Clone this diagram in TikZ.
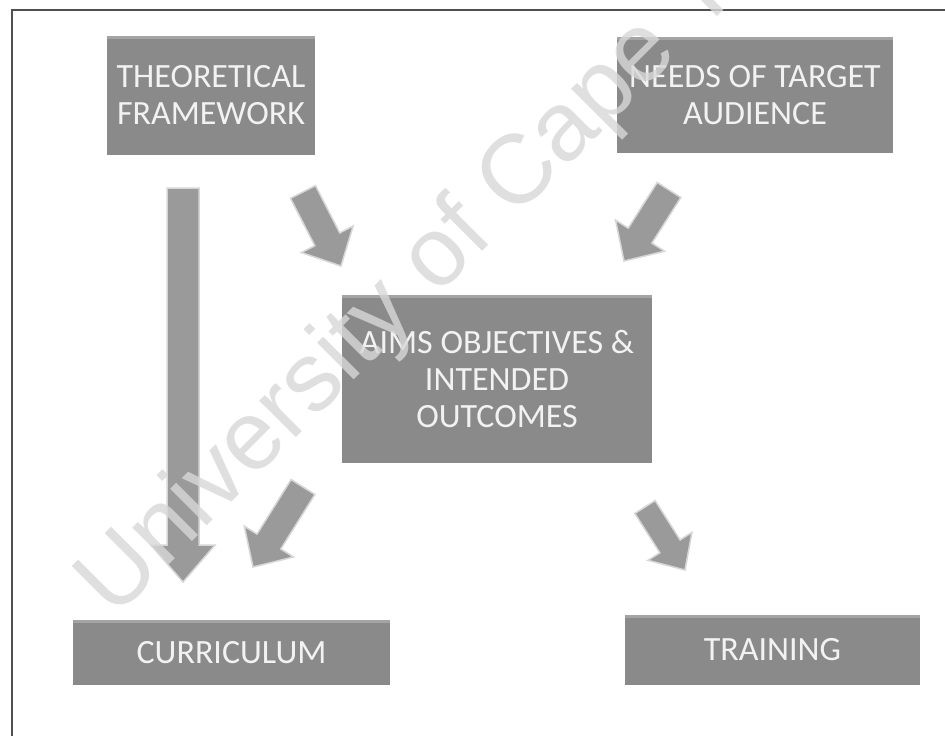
\documentclass[tikz,border=0pt]{standalone}
\usepackage{fontspec}
\setmainfont{Carlito}
\newfontfamily\wmfont{Liberation Sans}
\usetikzlibrary{calc}
\definecolor{boxgray}{HTML}{8A8A8A}
\definecolor{boxtop}{HTML}{A4A4A4}
\definecolor{arrowgray}{HTML}{9A9A9A}
\definecolor{edgegray}{HTML}{D6D6D6}
\definecolor{framegray}{HTML}{505050}
\definecolor{wmgray}{HTML}{D8D8D8}
\definecolor{txtwhite}{HTML}{F2F2F2}
\tikzset{
  greybox/.style={rectangle, fill=boxgray, inner sep=0pt, align=center,
    text=txtwhite, font=\fontsize{34}{37}\selectfont},
  blockarrow/.style={fill=arrowgray, draw=edgegray, line width=1.5pt, line join=miter},
  wmtext/.style={rotate=45, text=wmgray, text opacity=0.8, inner sep=0pt,
    font=\wmfont\fontsize{98}{98}\selectfont},
}
\newcommand{\blockarr}[5]{%
  \coordinate (hb) at ($(#2)!#5!(#1)$);
  \filldraw[blockarrow] ($(#1)!#3!90:(#2)$) -- ($(hb)!#3!90:(#2)$) -- ($(hb)!#4!90:(#2)$)
    -- (#2) -- ($(hb)!#4!-90:(#2)$) -- ($(hb)!#3!-90:(#2)$) -- ($(#1)!#3!-90:(#2)$) -- cycle;}
\begin{document}
\begin{tikzpicture}[x=1pt, y=-1pt]
\useasboundingbox (0,0) rectangle (945,736);
\fill[white] (0,0) rectangle (945,736);
% frame
\draw[framegray, line width=2pt] (12,736) -- (12,10) -- (945,10);
% boxes
\node[greybox, minimum width=208pt, minimum height=119pt] (tf) at (211,95.5) {THEORETICAL\\FRAMEWORK};
\node[greybox, minimum width=276pt, minimum height=116pt] (needs) at (755,95) {NEEDS OF TARGET\\AUDIENCE};
\node[greybox, minimum width=310pt, minimum height=168pt] (aims) at (497,379) {AIMS OBJECTIVES \&\\INTENDED\\OUTCOMES};
\node[greybox, minimum width=317pt, minimum height=65pt] (curr) at (231.5,652.5) {CURRICULUM};
\node[greybox, minimum width=295pt, minimum height=70pt] (train) at (772.5,650) {TRAINING};
% light top edges of boxes
\foreach \b in {tf,needs,aims,curr,train}{
  \draw[boxtop, line width=3pt] ([yshift=-2pt]\b.north west) -- ([yshift=-2pt]\b.north east);
}
% block arrows
\coordinate (a0t) at (183,188); \coordinate (a0h) at (183,582);
\coordinate (a1t) at (303,192); \coordinate (a1h) at (341,266);
\coordinate (a2t) at (669,190); \coordinate (a2h) at (624,261);
\coordinate (a3t) at (303,487); \coordinate (a3h) at (253,567);
\coordinate (a4t) at (645,507); \coordinate (a4h) at (685,570);
\blockarr{a0t}{a0h}{16pt}{32pt}{37pt}
\blockarr{a1t}{a1h}{14pt}{29pt}{30pt}
\blockarr{a2t}{a2h}{14pt}{29pt}{30pt}
\blockarr{a3t}{a3h}{14pt}{29pt}{30pt}
\blockarr{a4t}{a4h}{12pt}{26pt}{28pt}
% watermark
\node[wmtext] (wmark) at (470,228) {University of Cape Town};
\end{tikzpicture}
\end{document}
